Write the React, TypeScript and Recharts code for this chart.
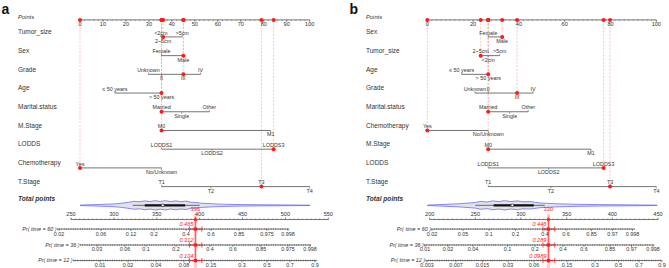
import React from 'react';
import { ComposedChart, Scatter, XAxis, YAxis } from 'recharts';

const FONT = '"Liberation Sans", Arial, Helvetica, sans-serif';
const INK = '#333333';
const AXIS = '#505050';
const RED = '#ff1a1a';
const PINK = '#f3a0a0';

// ---------- panel a ----------
const rowNamesA = ['Tumor_size', 'Sex', 'Grade', 'Age', 'Marital.status', 'M.Stage', 'LODDS', 'Chemotherapy', 'T.Stage'];
const levelNamesA = [
  ['<2cm', '2~5cm', '>5cm'],
  ['Female', 'Male'],
  ['Unknown', 'II', 'III', 'IV'],
  ['≤ 50 years', '> 50 years'],
  ['Married', 'Single', 'Other'],
  ['M0', 'M1'],
  ['LODDS1', 'LODDS2', 'LODDS3'],
  ['Yes', 'No/Unknown'],
  ['T1', 'T2', 'T3', 'T4'],
];
const levelPointsA = [
  [35.2, 36.2, 44.5],
  [35.5, 45],
  [29.8, 35.5, 45, 52.5],
  [15.2, 35.5],
  [35.5, 44.3, 56.3],
  [35.5, 83],
  [35.5, 57.5, 84.3],
  [0, 35.5],
  [35.5, 57, 79, 100],
];
const labelBelowA = [
  [false, true, false],
  [false, true],
  [false, true, true, false],
  [false, true],
  [false, true, false],
  [false, true],
  [false, true, false],
  [false, true],
  [false, true, false, true],
];
const chosenA = [1, 1, 2, 1, 0, 0, 2, 0, 2];
const pointTicksA = [0, 10, 20, 30, 40, 50, 60, 70, 80, 90, 100];
const totalTicksA = [250, 300, 350, 400, 450, 500, 550];
const scoreA = 395;
const probTickLabelsA = [
  ['0.02', '0.06', '0.12', '0.2', '0.4', '0.6', '0.85', '0.975', '0.998'],
  ['0.03', '0.06', '0.1', '0.2', '0.4', '0.6', '0.85', '0.975', '0.998'],
  ['0.01', '0.02', '0.04', '0.08', '0.15', '0.3', '0.5', '0.7', '0.9'],
];
const probTickTotalA = [
  [236, 285, 319.9, 346.7, 384, 413.2, 445.8, 478.4, 502.9],
  [280.3, 312.9, 337.4, 372.4, 412, 438.8, 471.5, 502.9, 528.6],
  [283.8, 316.4, 349.1, 381.7, 413.2, 449.3, 478.4, 505.2, 534.4],
];
const probSpanA = [[233.7, 504.5], [260.5, 529.7], [252.3, 536.7]];
const predTextA = ['0.465', '0.312', '0.104'];
const predCiA = [[388, 402.5], [388, 402.5], [388, 402.5]];
const violinTotA = [260.5, 284, 300, 307, 313, 319, 324, 330, 336, 342, 348, 354, 360, 366, 372, 378, 384, 390, 396, 402, 412, 425, 440, 470, 505, 528.6];
const violinDensA = [0.05, 0.18, 0.3, 0.4, 0.55, 0.7, 0.85, 0.75, 0.95, 0.8, 1.0, 0.82, 1.0, 0.8, 0.95, 0.78, 0.9, 0.65, 0.6, 0.45, 0.35, 0.25, 0.18, 0.12, 0.08, 0.03];
const boxA = [322, 336, 357, 383, 400];

// ---------- panel b ----------
const rowNamesB = ['Sex', 'Tumor_size', 'Age', 'Grade', 'Marital.status', 'Chemotherapy', 'M.Stage', 'LODDS', 'T.Stage'];
const levelNamesB = [
  ['Female', 'Male'],
  ['2~5cm', '<2cm', '>5cm'],
  ['≤ 50 years', '> 50 years'],
  ['Unknown', 'II', 'III', 'IV'],
  ['Married', 'Single', 'Other'],
  ['Yes', 'No/Unknown'],
  ['M0', 'M1'],
  ['LODDS1', 'LODDS2', 'LODDS3'],
  ['T1', 'T2', 'T3', 'T4'],
];
const levelPointsB = [
  [26.6, 32.7],
  [23.3, 26.6, 31.6],
  [15, 26.6],
  [20.8, 26.6, 39.2, 46.2],
  [26.6, 36, 44.1],
  [0, 26.6],
  [26.6, 71.5],
  [26.6, 53, 77],
  [26.6, 54, 79.8, 100],
];
const labelBelowB = [
  [false, true],
  [false, true, false],
  [false, true],
  [false, false, true, false],
  [false, true, false],
  [false, true],
  [false, true],
  [false, true, false],
  [false, true, false, true],
];
const chosenB = [1, 0, 1, 2, 0, 0, 0, 2, 2];
const pointTicksB = [0, 20, 40, 60, 80, 100];
const totalTicksB = [200, 250, 300, 350, 400, 450];
const scoreB = 330;
const probTickLabelsB = [
  ['0.02', '0.05', '0.1', '0.2', '0.4', '0.6', '0.85', '0.97', '0.998'],
  ['0.01', '0.02', '0.04', '0.1', '0.2', '0.4', '0.6', '0.85', '0.97', '0.998'],
  ['0.003', '0.007', '0.015', '0.03', '0.06', '0.15', '0.3', '0.5', '0.7', '0.9'],
];
const probTickTotalB = [
  [202.5, 236.5, 265, 294, 326.3, 349.3, 377.2, 400.2, 422.1],
  [194.9, 220, 247.4, 285.2, 315.3, 346, 369, 397.5, 421, 444.6],
  [197, 228.8, 257.8, 285.8, 314.3, 350.4, 381, 406.8, 429.2, 454.4],
];
const probSpanB = [[202, 424.5], [194, 446], [195.5, 454.5]];
const predTextB = ['0.446', '0.289', '0.0989'];
const predCiB = [[324, 337], [324, 337], [324, 337]];
const violinTotB = [197.4, 211, 233, 250, 256, 263, 269, 276, 282, 289, 296, 302, 310, 321, 337, 359, 386, 419, 449];
const violinDensB = [0.05, 0.15, 0.35, 0.6, 0.85, 0.7, 0.95, 0.8, 1.0, 0.8, 0.95, 0.75, 0.8, 0.5, 0.35, 0.22, 0.15, 0.1, 0.04];
const boxB = [250, 270, 290.5, 314, 326];

const probTitles = ['Pr( time = 60 )', 'Pr( time = 36 )', 'Pr( time = 12 )'];

// ---------- layout (rows in row units) ----------
const ROW_POINTS = 0.09;
const ROW_TOTAL = 10;
const ROW_TOTAL_AXIS = 10.76;
const ROW_PR = [11.27, 12.12, 12.95];
const Y_DOMAIN: [number, number] = [-0.973, 13.32];
const VIOLIN_HALF = 0.25;
const CHART_H = 268;

// axis domains are wider than the tick range so nothing is clipped
const layoutA = {
  width: 334, nameX: 18, right: 0,
  ptsPad: { left: 62, right: 24.3 }, totPad: { left: 27.3, right: 1.4 },
  totDomain: [220, 555] as [number, number],
};
const layoutB = {
  width: 335, nameX: 32, right: 0,
  ptsPad: { left: 61.3, right: 12.7 }, totPad: { left: 50, right: 1.9 },
  totDomain: [185, 460] as [number, number],
};

const range = (a: number, b: number, step: number) => {
  const out: number[] = [];
  for (let v = a; v <= b + 1e-9; v += step) out.push(v);
  return out;
};

// ---------- shapes ----------
const Nothing = () => <g />;

const levelShape = (props: any) => {
  const { cx, cy, payload } = props;
  const below = payload.below;
  return (
    <g>
      <line x1={cx} x2={cx} y1={cy} y2={below ? cy + 1.8 : cy - 1.8} stroke={AXIS} strokeWidth={0.6} />
      <text x={cx} y={below ? cy + 6 : cy - 2.3} textAnchor="middle" fontSize={5.4} fontFamily={FONT} fill={INK}>
        {payload.label}
      </text>
    </g>
  );
};

const ptsTickShape = (props: any) => {
  const { cx, cy, payload } = props;
  return (
    <g>
      <line x1={cx} x2={cx} y1={cy} y2={cy + 2} stroke={AXIS} strokeWidth={0.6} />
      <text x={cx} y={cy + 6.6} textAnchor="middle" fontSize={5.6} fontFamily={FONT} fill={INK}>
        {payload.label}
      </text>
    </g>
  );
};

const minorDown = (props: any) => (
  <line x1={props.cx} x2={props.cx} y1={props.cy} y2={props.cy + 1.2} stroke={AXIS} strokeWidth={0.5} />
);
const minorUp = (props: any) => (
  <line x1={props.cx} x2={props.cx} y1={props.cy} y2={props.cy - 1.2} stroke={AXIS} strokeWidth={0.5} />
);

const totTickShape = (props: any) => {
  const { cx, cy, payload } = props;
  return (
    <g>
      <line x1={cx} x2={cx} y1={cy} y2={cy - 2} stroke={AXIS} strokeWidth={0.6} />
      <text x={cx} y={cy - 3.2} textAnchor="middle" fontSize={5.6} fontFamily={FONT} fill={INK}>
        {payload.label}
      </text>
    </g>
  );
};

const probTickShape = (props: any) => {
  const { cx, cy, payload } = props;
  return (
    <g>
      <line x1={cx} x2={cx} y1={cy} y2={cy + 2} stroke={AXIS} strokeWidth={0.6} />
      <text x={cx} y={cy + 6.5} textAnchor="middle" fontSize={5.4} fontFamily={FONT} fill={INK}>
        {payload.label}
      </text>
    </g>
  );
};

const probTitleShape = (props: any) => {
  const { cx, cy, payload } = props;
  if (!payload.title) return <g />;
  return (
    <text x={cx - 0.5} y={cy + 1.8} textAnchor="end" fontSize={5.4} fontStyle="italic" fontFamily={FONT} fill={INK}>
      {payload.title}
    </text>
  );
};

const redDot = (props: any) => <circle cx={props.cx} cy={props.cy} r={2} fill={RED} />;

const ciCap = (props: any) => (
  <line x1={props.cx} x2={props.cx} y1={props.cy - 2.6} y2={props.cy + 2.6} stroke={RED} strokeWidth={0.8} />
);

const predShape = (props: any) => {
  const { cx, cy, payload } = props;
  return (
    <g>
      <rect x={cx - 1.6} y={cy - 1.6} width={3.2} height={3.2} fill={RED} />
      <text x={cx - 2} y={cy - 2.8} textAnchor="end" fontSize={5.6} fontStyle="italic" fontFamily={FONT} fill={RED}>
        {payload.label}
      </text>
    </g>
  );
};

const scoreShape = (props: any) => {
  const { cx, cy, payload } = props;
  return (
    <g>
      <rect x={cx - 1.3} y={cy - 1.3} width={2.6} height={2.6} fill={RED} />
      <text x={cx} y={cy - 8.5} textAnchor="middle" fontSize={5.8} fontFamily={FONT} fill={RED}>
        {payload.label}
      </text>
    </g>
  );
};

const medianShape = (props: any) => (
  <circle cx={props.cx} cy={props.cy} r={1.4} fill="#ffffff" stroke="#111111" strokeWidth={0.6} />
);

type PanelData = {
  rowNames: string[];
  levelNames: string[][];
  levelPoints: number[][];
  labelBelow: boolean[][];
  chosen: number[];
  pointTicks: number[];
  totalTicks: number[];
  score: number;
  probTickLabels: string[][];
  probTickTotal: number[][];
  probSpan: number[][];
  predText: string[];
  predCi: number[][];
  violinTot: number[];
  violinDens: number[];
  box: number[];
};

const panelA: PanelData = {
  rowNames: rowNamesA, levelNames: levelNamesA, levelPoints: levelPointsA, labelBelow: labelBelowA,
  chosen: chosenA, pointTicks: pointTicksA, totalTicks: totalTicksA, score: scoreA,
  probTickLabels: probTickLabelsA, probTickTotal: probTickTotalA, probSpan: probSpanA,
  predText: predTextA, predCi: predCiA, violinTot: violinTotA, violinDens: violinDensA, box: boxA,
};
const panelB: PanelData = {
  rowNames: rowNamesB, levelNames: levelNamesB, levelPoints: levelPointsB, labelBelow: labelBelowB,
  chosen: chosenB, pointTicks: pointTicksB, totalTicks: totalTicksB, score: scoreB,
  probTickLabels: probTickLabelsB, probTickTotal: probTickTotalB, probSpan: probSpanB,
  predText: predTextB, predCi: predCiB, violinTot: violinTotB, violinDens: violinDensB, box: boxB,
};

const onPts = { xAxisId: 'pts', yAxisId: 'r', isAnimationActive: false } as const;
const onTot = { xAxisId: 'tot', yAxisId: 'r', isAnimationActive: false } as const;

function Panel({ d, lay }: { d: PanelData; lay: typeof layoutA }) {
  const rowTicks = [ROW_POINTS, ...d.rowNames.map((_, i) => i + 1), ROW_TOTAL];
  const rowLabels = ['Points', ...d.rowNames, 'Total points'];
  const chosenPts = d.chosen.map((c, i) => d.levelPoints[i][c]);
  const [tMin, tMax] = [d.totalTicks[0], d.totalTicks[d.totalTicks.length - 1]];

  const nameTick = (p: any) => {
    const idx = rowTicks.indexOf(p.payload.value);
    const isPoints = idx === 0;
    const isTotal = idx === rowTicks.length - 1;
    return (
      <text
        x={lay.nameX}
        y={p.y - (isTotal ? 4.6 : isPoints ? 1.2 : 2.8)}
        textAnchor="start"
        fontFamily={FONT}
        fontSize={isTotal ? 6.6 : isPoints ? 5.8 : 6.5}
        fontStyle={isPoints || isTotal ? 'italic' : 'normal'}
        fontWeight={isTotal ? 'bold' : 'normal'}
        fill={INK}
      >
        {rowLabels[idx]}
      </text>
    );
  };

  const violin = [
    ...d.violinTot.map((t, i) => ({ t, y: ROW_TOTAL - d.violinDens[i] * VIOLIN_HALF })),
    ...d.violinTot.map((t, i) => ({ t, y: ROW_TOTAL + d.violinDens[i] * VIOLIN_HALF })).reverse(),
  ];

  return (
    <ComposedChart width={lay.width} height={CHART_H} margin={{ top: 0, right: lay.right, bottom: 0, left: 0 }}>
      <XAxis xAxisId="pts" type="number" dataKey="p" domain={[0, 100]} hide padding={lay.ptsPad} />
      <XAxis xAxisId="tot" type="number" dataKey="t" domain={lay.totDomain} hide padding={lay.totPad} />
      <YAxis
        yAxisId="r" type="number" dataKey="y" domain={Y_DOMAIN} reversed
        width={lay.nameX} ticks={rowTicks} interval={0} axisLine={false} tickLine={false} tick={nameTick}
      />

      {/* dashed guides from the Points axis to each chosen level */}
      {chosenPts.map((p, i) => (
        <Scatter key={`g${i}`} {...onPts} data={[{ p, y: ROW_POINTS }, { p, y: i + 1 }]}
          line={{ stroke: PINK, strokeWidth: 0.6, strokeDasharray: '2 1.5' }} shape={Nothing} />
      ))}

      {/* variable rows */}
      {d.rowNames.map((_, i) => {
        const data = d.levelNames[i]
          .map((label, j) => ({ p: d.levelPoints[i][j], y: i + 1, label, below: d.labelBelow[i][j] }))
          .sort((a, b) => a.p - b.p);
        return (
          <Scatter key={`r${i}`} {...onPts} data={data}
            line={{ stroke: AXIS, strokeWidth: 0.8 }} shape={levelShape} />
        );
      })}

      {/* Points axis */}
      <Scatter {...onPts} data={range(0, 100, 2).map((p) => ({ p, y: ROW_POINTS }))} shape={minorDown} />
      <Scatter {...onPts} data={d.pointTicks.map((p) => ({ p, y: ROW_POINTS, label: String(p) }))}
        line={{ stroke: AXIS, strokeWidth: 0.8 }} shape={ptsTickShape} />
      <Scatter {...onPts} data={chosenPts.map((p) => ({ p, y: ROW_POINTS }))} shape={redDot} />
      <Scatter {...onPts} data={chosenPts.map((p, i) => ({ p, y: i + 1 }))} shape={redDot} />

      {/* violin + box of total points */}
      <Scatter {...onTot} data={violin}
        line={{ stroke: '#5a5af2', strokeWidth: 0.7, fill: '#e2e2ea' }} shape={Nothing} />
      <Scatter {...onTot} data={[{ t: d.box[0], y: ROW_TOTAL }, { t: d.box[4], y: ROW_TOTAL }]}
        line={{ stroke: '#666666', strokeWidth: 1 }} shape={Nothing} />
      <Scatter {...onTot} data={[{ t: d.box[1], y: ROW_TOTAL }, { t: d.box[3], y: ROW_TOTAL }]}
        line={{ stroke: '#111111', strokeWidth: 2.2 }} shape={Nothing} />
      <Scatter {...onTot} data={[{ t: d.box[2], y: ROW_TOTAL }]} shape={medianShape} />

      {/* pink band under the score line */}
      <Scatter {...onTot} data={[{ t: d.score, y: ROW_TOTAL_AXIS - 0.3 }, { t: d.score, y: ROW_PR[2] + 0.4 }]}
        line={{ stroke: 'rgba(255,80,80,0.28)', strokeWidth: 3.2 }} shape={Nothing} />

      {/* Total points axis */}
      <Scatter {...onTot} data={range(tMin, tMax, 5).map((t) => ({ t, y: ROW_TOTAL_AXIS }))} shape={minorUp} />
      <Scatter {...onTot} data={d.totalTicks.map((t) => ({ t, y: ROW_TOTAL_AXIS, label: String(t) }))}
        line={{ stroke: AXIS, strokeWidth: 0.8 }} shape={totTickShape} />

      {/* probability axes */}
      {ROW_PR.map((y, k) => (
        <React.Fragment key={`pr${k}`}>
          <Scatter {...onTot} data={[{ t: d.probSpan[k][0], y }, { t: d.probSpan[k][1], y }]}
            line={{ stroke: '#6a6a6a', strokeWidth: 2, strokeDasharray: '0.5 1.8' }} shape={Nothing} />
          <Scatter {...onTot}
            data={[{ t: d.probSpan[k][0], y, title: probTitles[k] }, { t: d.probSpan[k][1], y, title: '' }]}
            line={{ stroke: AXIS, strokeWidth: 0.8 }} shape={probTitleShape} />
          <Scatter {...onTot}
            data={d.probTickTotal[k].map((t, j) => ({ t, y, label: d.probTickLabels[k][j] }))}
            shape={probTickShape} />
        </React.Fragment>
      ))}

      {/* score line, CI and predictions */}
      <Scatter {...onTot} data={[{ t: d.score, y: ROW_TOTAL_AXIS - 0.15 }, { t: d.score, y: ROW_PR[2] + 0.12 }]}
        line={{ stroke: RED, strokeWidth: 0.7 }} shape={Nothing} />
      <Scatter {...onTot} data={[{ t: d.score, y: ROW_TOTAL_AXIS, label: String(d.score) }]} shape={scoreShape} />
      {ROW_PR.map((y, k) => (
        <React.Fragment key={`ci${k}`}>
          <Scatter {...onTot} data={[{ t: d.predCi[k][0], y }, { t: d.predCi[k][1], y }]}
            line={{ stroke: RED, strokeWidth: 0.8 }} shape={ciCap} />
          <Scatter {...onTot} data={[{ t: d.score, y, label: d.predText[k] }]} shape={predShape} />
        </React.Fragment>
      ))}
    </ComposedChart>
  );
}

export default function App() {
  return (
    <div style={{ position: 'absolute', left: 0, top: 0, width: 669, height: 268, background: '#ffffff', overflow: 'hidden' }}>
      <div style={{ position: 'absolute', left: 0, top: 0 }}>
        <Panel d={panelA} lay={layoutA} />
      </div>
      <div style={{ position: 'absolute', left: 334, top: 0 }}>
        <Panel d={panelB} lay={layoutB} />
      </div>
      <svg width={669} height={268} style={{ position: 'absolute', left: 0, top: 0, pointerEvents: 'none' }}>
        <text x={1.5} y={14} fontFamily={FONT} fontWeight="bold" fontSize={14} fill="#111">a</text>
        <text x={349.5} y={13.5} fontFamily={FONT} fontWeight="bold" fontSize={14} fill="#111">b</text>
      </svg>
    </div>
  );
}
